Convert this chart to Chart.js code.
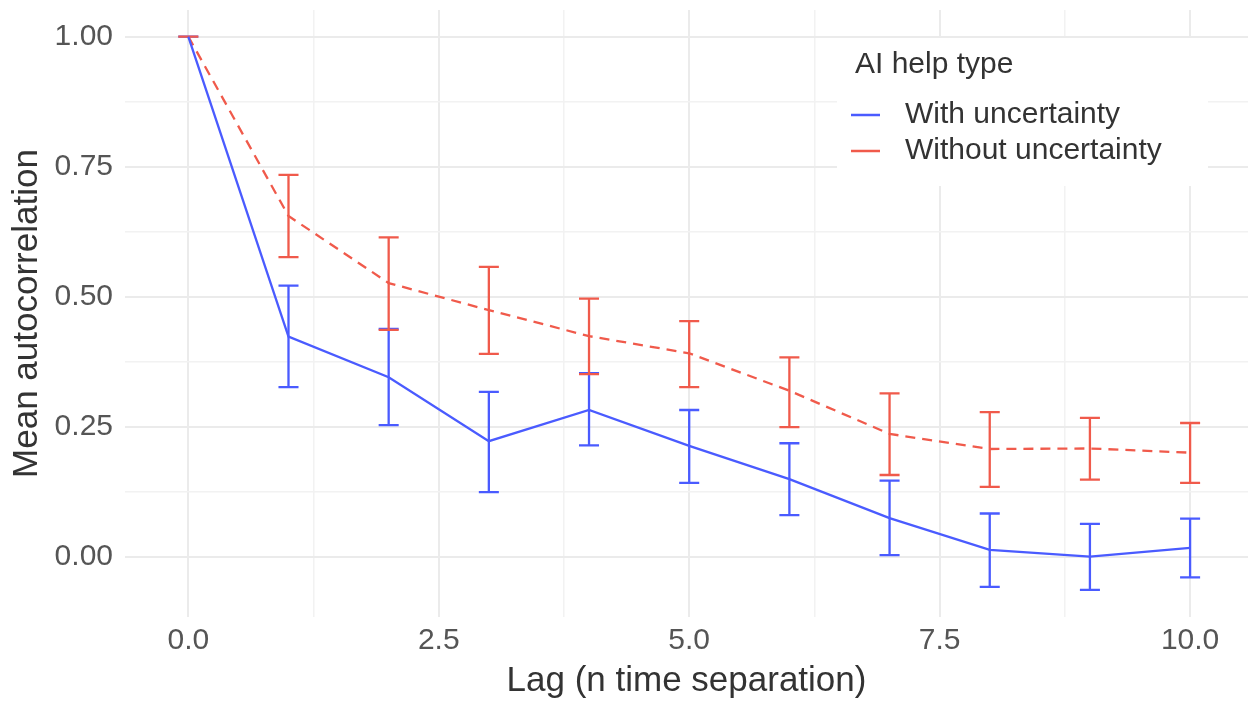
<!DOCTYPE html>
<html>
<head>
<meta charset="utf-8">
<script src="https://cdn.jsdelivr.net/npm/chart.js@4.4.1/dist/chart.umd.min.js"></script>
<style>
  html, body { margin: 0; padding: 0; background: #ffffff; }
  #wrap { width: 1248px; height: 702px; position: relative; }
</style>
</head>
<body>
<div id="wrap"><canvas id="c"></canvas></div>
<script>
// ---- data ----
const lags = [0, 1, 2, 3, 4, 5, 6, 7, 8, 9, 10];
const seriesNames = ["With uncertainty", "Without uncertainty"];
const legendTitle = "AI help type";
const withMean  = [1.00, 0.423, 0.345, 0.222, 0.282, 0.213, 0.149, 0.074, 0.013, 0.000, 0.017];
const withLow   = [1.00, 0.326, 0.253, 0.124, 0.214, 0.142, 0.080, 0.003, -0.058, -0.064, -0.040];
const withHigh  = [1.00, 0.521, 0.438, 0.317, 0.353, 0.282, 0.218, 0.146, 0.083, 0.063, 0.073];
const withoutMean = [1.00, 0.655, 0.526, 0.474, 0.424, 0.391, 0.319, 0.236, 0.207, 0.208, 0.200];
const withoutLow  = [1.00, 0.576, 0.436, 0.390, 0.351, 0.326, 0.249, 0.157, 0.134, 0.148, 0.142];
const withoutHigh = [1.00, 0.734, 0.614, 0.557, 0.496, 0.453, 0.383, 0.314, 0.278, 0.267, 0.257];
const xTickLabels = ["0.0", "2.5", "5.0", "7.5", "10.0"];
const yTickLabels = ["0.00", "0.25", "0.50", "0.75", "1.00"];
const xTitle = "Lag (n time separation)";
const yTitle = "Mean autocorrelation";

// ---- styles ----
const BLUE = '#4a5bff';
const RED = '#f05a4b';
const FONT = "'Liberation Sans', Arial, Helvetica, sans-serif";
const CAP_HALF = 0.1;

function pts(ys) { return lags.map((x, i) => ({ x: x, y: ys[i] })); }
function isMult(v, step) { return Math.abs(v / step - Math.round(v / step)) < 1e-6; }

const errorBarPlugin = {
  id: 'errorBars',
  beforeDatasetsDraw(chart) {
    const ctx = chart.ctx;
    const xs = chart.scales.x, ys = chart.scales.y;
    const sets = [
      { lo: withLow, hi: withHigh, color: BLUE },
      { lo: withoutLow, hi: withoutHigh, color: RED }
    ];
    ctx.save();
    ctx.lineWidth = 2.3;
    ctx.lineCap = 'butt';
    sets.forEach(s => {
      ctx.strokeStyle = s.color;
      lags.forEach((lag, i) => {
        const xc = xs.getPixelForValue(lag);
        const x0 = xs.getPixelForValue(lag - CAP_HALF);
        const x1 = xs.getPixelForValue(lag + CAP_HALF);
        const yl = ys.getPixelForValue(s.lo[i]);
        const yh = ys.getPixelForValue(s.hi[i]);
        ctx.beginPath();
        ctx.moveTo(xc, yl); ctx.lineTo(xc, yh);
        ctx.moveTo(x0, yl); ctx.lineTo(x1, yl);
        ctx.moveTo(x0, yh); ctx.lineTo(x1, yh);
        ctx.stroke();
      });
    });
    ctx.restore();
  }
};

const legendPlugin = {
  id: 'insideLegend',
  afterDatasetsDraw(chart) {
    const ctx = chart.ctx;
    const ca = chart.chartArea;
    const left = ca.left + 712, top = ca.top + 28, w = 371, h = 148;
    ctx.save();
    ctx.fillStyle = '#ffffff';
    ctx.fillRect(left, top, w, h);
    ctx.fillStyle = '#333333';
    ctx.font = '30px ' + FONT;
    ctx.textBaseline = 'middle';
    ctx.textAlign = 'left';
    ctx.fillText(legendTitle, left + 18, top + 27);
    const colors = [BLUE, RED];
    seriesNames.forEach((name, i) => {
      const yy = top + 77 + i * 36;
      ctx.strokeStyle = colors[i];
      ctx.lineWidth = 2.5;
      ctx.beginPath();
      ctx.moveTo(left + 14, yy); ctx.lineTo(left + 43, yy);
      ctx.stroke();
      ctx.fillStyle = '#333333';
      ctx.fillText(name, left + 68, yy);
    });
    ctx.restore();
  }
};

new Chart(document.getElementById('c'), {
  type: 'line',
  data: {
    datasets: [
      {
        label: seriesNames[0],
        data: pts(withMean),
        borderColor: BLUE,
        backgroundColor: BLUE,
        borderWidth: 2.3,
        pointRadius: 0,
        tension: 0,
        fill: false
      },
      {
        label: seriesNames[1],
        data: pts(withoutMean),
        borderColor: RED,
        backgroundColor: RED,
        borderWidth: 2.3,
        borderDash: [10, 7],
        pointRadius: 0,
        tension: 0,
        fill: false
      }
    ]
  },
  options: {
    responsive: true,
    maintainAspectRatio: false,
    animation: false,
    devicePixelRatio: 1,
    layout: { padding: { left: 0, right: 0, top: 10, bottom: 0 } },
    plugins: {
      legend: { display: false },
      tooltip: { enabled: false }
    },
    scales: {
      x: {
        type: 'linear',
        min: -0.632,
        max: 10.578,
        border: { display: false },
        grid: {
          drawTicks: false,
          color: ctx => isMult(ctx.tick.value, 2.5) ? '#ebebeb' : '#f2f2f2',
          lineWidth: ctx => isMult(ctx.tick.value, 2.5) ? 2 : 1.5
        },
        ticks: {
          stepSize: 1.25,
          includeBounds: false,
          autoSkip: false,
          maxRotation: 0,
          padding: 6,
          color: '#555555',
          font: { family: FONT, size: 30 },
          callback: v => isMult(v, 2.5) ? xTickLabels[Math.round(v / 2.5)] : ''
        },
        title: {
          display: true,
          text: xTitle,
          color: '#333333',
          font: { family: FONT, size: 35 },
          padding: { top: 0, bottom: 0 }
        },
        afterFit: s => { s.height = 85; s.paddingLeft = 0; s.paddingRight = 0; }
      },
      y: {
        type: 'linear',
        min: -0.116,
        max: 1.051,
        border: { display: false },
        grid: {
          drawTicks: false,
          color: ctx => isMult(ctx.tick.value, 0.25) ? '#ebebeb' : '#f2f2f2',
          lineWidth: ctx => isMult(ctx.tick.value, 0.25) ? 2 : 1.5
        },
        ticks: {
          stepSize: 0.125,
          includeBounds: false,
          autoSkip: false,
          padding: 12,
          color: '#555555',
          font: { family: FONT, size: 30 },
          callback: v => isMult(v, 0.25) ? yTickLabels[Math.round(v / 0.25)] : ''
        },
        title: {
          display: true,
          text: yTitle,
          color: '#333333',
          font: { family: FONT, size: 35 },
          padding: { top: 6, bottom: 0 }
        },
        afterFit: s => { s.width = 125; s.paddingTop = 0; s.paddingBottom = 0; }
      }
    }
  },
  plugins: [errorBarPlugin, legendPlugin]
});
</script>
</body>
</html>
